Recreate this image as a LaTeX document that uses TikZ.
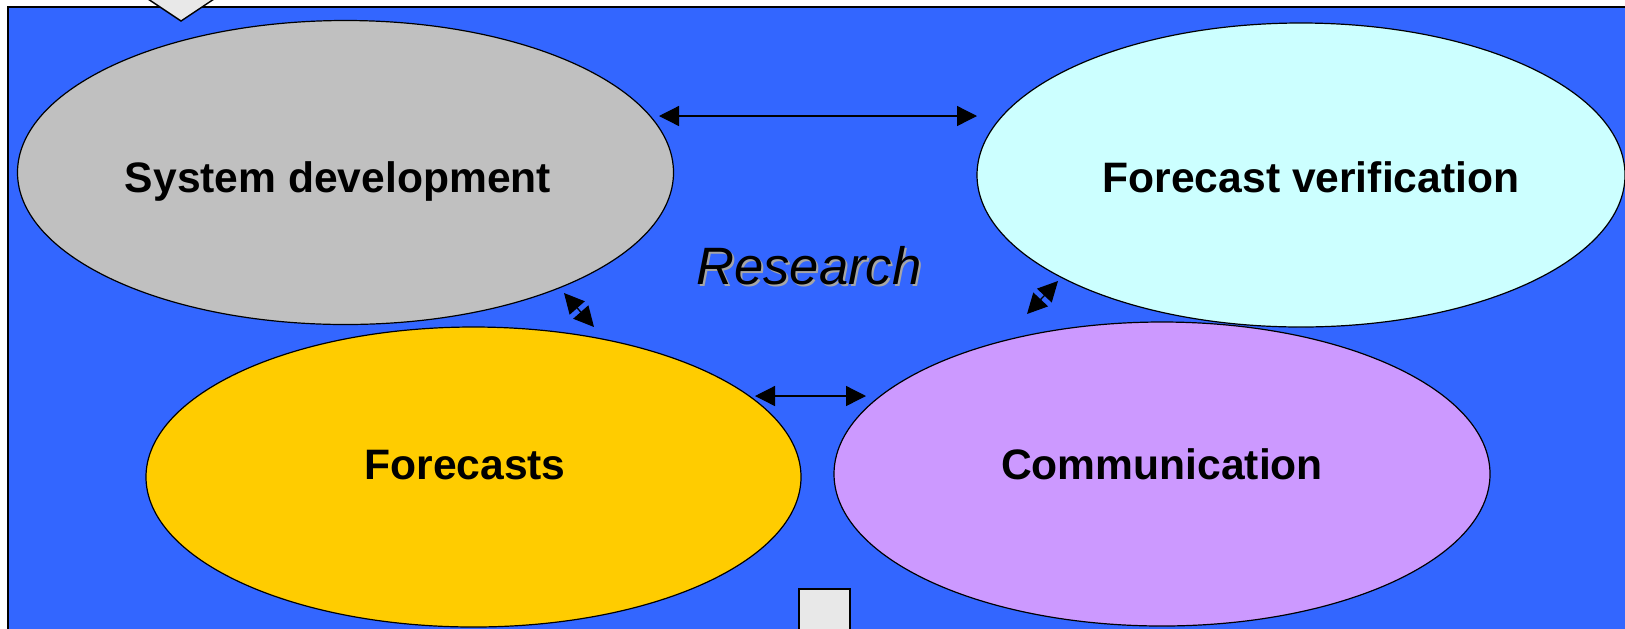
\documentclass[tikz,border=0pt]{standalone}
\usepackage{fontspec}
\setmainfont{Liberation Sans}
\usepackage{tikz}
\usepackage{xcolor}
\usetikzlibrary{positioning, shapes.geometric, arrows.meta}
\definecolor{panelblue}{HTML}{3366FF}
\definecolor{sysgray}{HTML}{C0C0C0}
\definecolor{vercyan}{HTML}{CCFFFF}
\definecolor{fcyellow}{HTML}{FFCC00}
\definecolor{compurple}{HTML}{CC99FF}
\definecolor{boxgray}{HTML}{E8E8E8}

\begin{document}
\begin{tikzpicture}[x=0.5pt, y=-0.5pt,
        blob/.style={ellipse, draw=black, line width=0.6pt, inner sep=0pt},
        title/.style={font=\fontsize{21.3}{25}\selectfont\bfseries, anchor=base, inner sep=0pt},
        link/.style={{Triangle[length=10pt,width=10pt]}-{Triangle[length=10pt,width=10pt]}, line width=0.65pt}]
        \clip (0,0) rectangle (1625,628);
        \fill [white] (0,0) rectangle (1625,628);
        \draw [fill=panelblue, line width=1pt] (8,7) rectangle (1640,645);
        
        % marker shapes at the edges
        \draw [fill=boxgray, line width=0.7pt] (142,-5) -- (181,21) -- (220,-5);
        \draw [fill=boxgray, line width=1pt] (799,589) rectangle (850,645);
        
        \node [blob, fill=sysgray, minimum width=328pt, minimum height=152pt] (sys) at (345.5,172.5) {};
        \node [blob, fill=vercyan, minimum width=324pt, minimum height=152pt] (ver) at (1301,175) {};
        \node [blob, fill=fcyellow, minimum width=327.5pt, minimum height=150pt] (fc) at (473.5,477) {};
        \node [blob, fill=compurple, minimum width=328pt, minimum height=152pt] (com) at (1162,474) {};
        
        \node [title] (systxt) at (338,192) {System development};
        \node [title] (vertxt) at (1311,192) {Forecast verification};
        \node [title] (fctxt) at (465,479) {Forecasts};
        \node [title] (comtxt) at (1162,479) {Communication};
        
        \node [anchor=base, inner sep=0pt, text=gray!70, font=\fontsize{26.3}{30}\selectfont\itshape] (resshadow) at (811,286) {Research};
        \node [anchor=base, inner sep=0pt, font=\fontsize{26.3}{30}\selectfont\itshape] (res) at (809,284) {Research};
        
        \coordinate (s1) at (659,116);
        \coordinate (v1) at (977,116);
        \coordinate (s2) at (564,293);
        \coordinate (f2) at (594,327);
        \coordinate (v3) at (1058,281);
        \coordinate (c3) at (1027,314);
        \coordinate (f4) at (755,396);
        \coordinate (c4) at (866,396);
        
        \draw [link] (s1) -- (v1);
        \draw [link] (s2) -- (f2);
        \draw [link] (v3) -- (c3);
        \draw [link] (f4) -- (c4);
    \end{tikzpicture}
\end{document}
